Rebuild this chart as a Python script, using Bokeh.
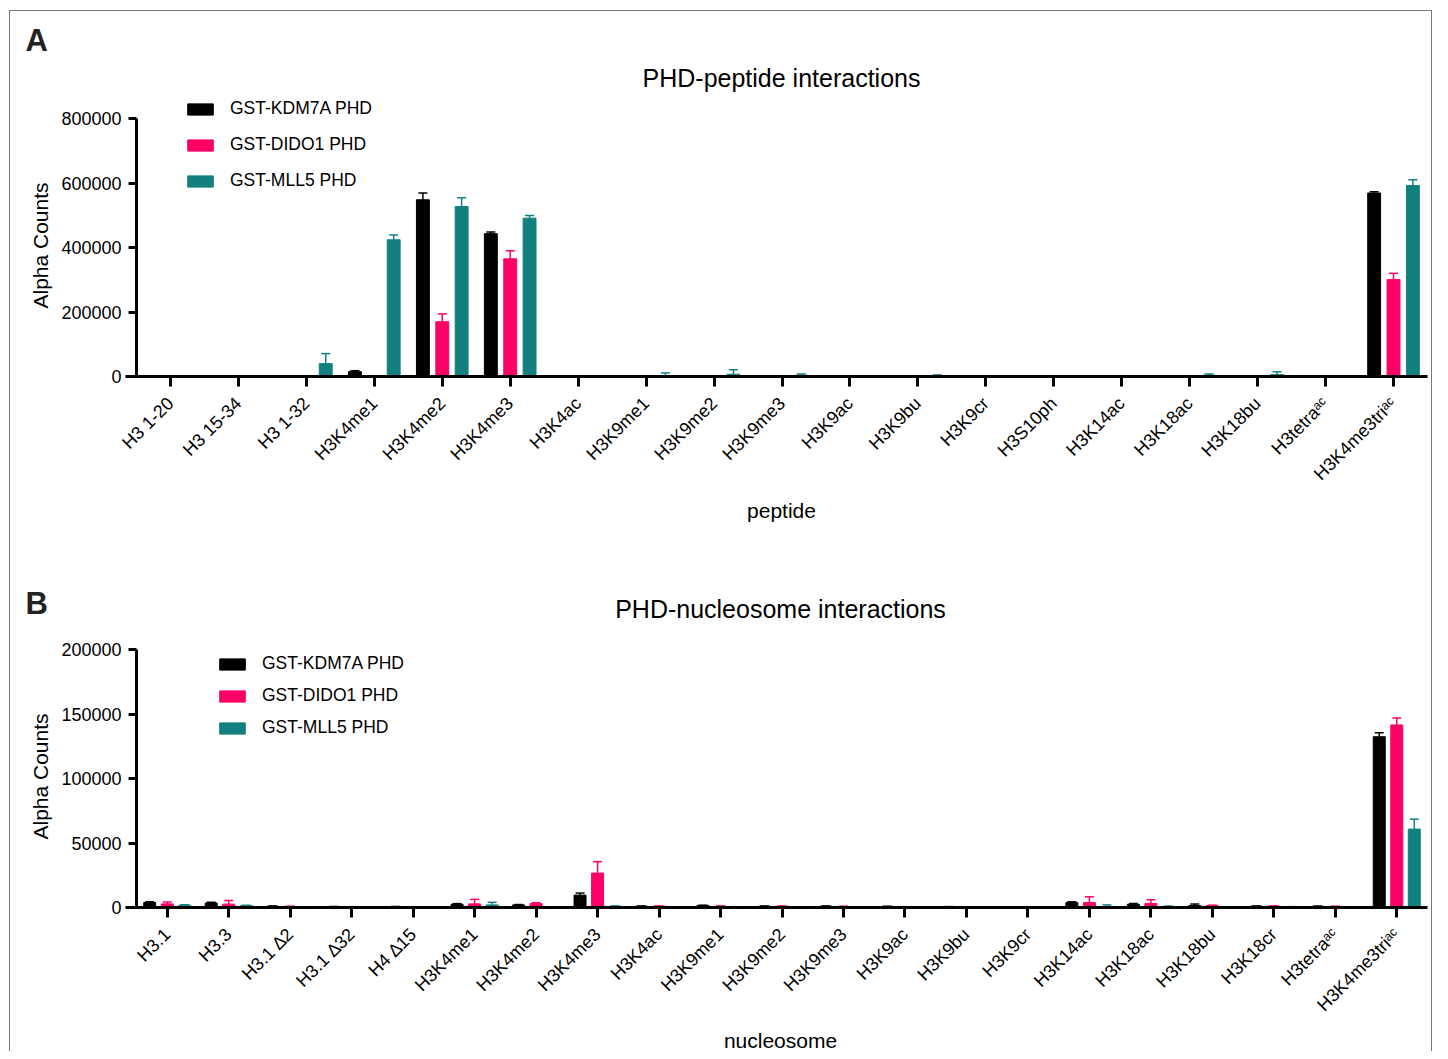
import math
from bokeh.plotting import figure
from bokeh.models import (Range1d, FixedTicker, BasicTickFormatter, Whisker, TeeHead,
                          ColumnDataSource, Legend, LegendItem, Label)
from bokeh.transform import dodge
from bokeh.layouts import column
from bokeh.embed import file_html
from bokeh.resources import INLINE

FONT = "Liberation Sans"
SERIES = ["GST-KDM7A PHD", "GST-DIDO1 PHD", "GST-MLL5 PHD"]
COLORS = ["#000000", "#FF0066", "#138080"]

# ---------------- Panel A: peptides ----------------
peptides = ["H3 1-20", "H3 15-34", "H3 1-32", "H3K4me1", "H3K4me2", "H3K4me3", "H3K4ac",
            "H3K9me1", "H3K9me2", "H3K9me3", "H3K9ac", "H3K9bu", "H3K9cr", "H3S10ph",
            "H3K14ac", "H3K18ac", "H3K18bu", "H3tetra\u1d43\u1d9c", "H3K4me3tri\u1d43\u1d9c"]
pep_kdm7a = [0, 0, 0, 15000, 548000, 443000, 0, 0, 0, 0, 0, 0, 0, 0, 0, 0, 0, 0, 569000]
pep_kdm7a_err = [0, 0, 0, 3000, 21000, 5000, 0, 0, 0, 0, 0, 0, 0, 0, 0, 0, 0, 0, 4000]
pep_dido1 = [0, 0, 1500, 1500, 170000, 365000, 0, 0, 0, 0, 0, 0, 0, 0, 0, 0, 0, 0, 301000]
pep_dido1_err = [0, 0, 500, 500, 24000, 25000, 0, 0, 0, 0, 0, 0, 0, 0, 0, 0, 0, 0, 19000]
pep_mll5 = [0, 0, 40000, 424000, 527000, 491000, 0, 3000, 7000, 4000, 500, 2000, 0, 0,
            500, 4000, 6000, 0, 592000]
pep_mll5_err = [0, 0, 31000, 15000, 27000, 8000, 0, 8000, 14000, 4000, 500, 3000, 0, 0,
                500, 4000, 8500, 0, 18000]
pep_yticks = [0, 200000, 400000, 600000, 800000]

# ---------------- Panel B: nucleosomes ----------------
nucleosomes = ["H3.1", "H3.3", "H3.1 \u22062", "H3.1 \u220632", "H4 \u220615", "H3K4me1",
               "H3K4me2", "H3K4me3", "H3K4ac", "H3K9me1", "H3K9me2", "H3K9me3", "H3K9ac",
               "H3K9bu", "H3K9cr", "H3K14ac", "H3K18ac", "H3K18bu", "H3K18cr",
               "H3tetra\u1d43\u1d9c", "H3K4me3tri\u1d43\u1d9c"]
nuc_kdm7a = [3800, 3500, 1000, 700, 700, 2500, 2000, 9600, 1000, 1500, 1000, 1000, 800, 600,
             500, 3800, 2500, 1500, 1000, 900, 132400]
nuc_kdm7a_err = [600, 600, 200, 100, 100, 500, 300, 1600, 200, 300, 200, 200, 200, 100, 100,
                 600, 600, 1200, 200, 200, 3100]
nuc_dido1 = [2800, 2600, 800, 300, 300, 2800, 3000, 26700, 1000, 1000, 1000, 800, 500, 400,
             400, 3800, 3200, 1500, 1000, 800, 141500]
nuc_dido1_err = [1400, 2800, 200, 100, 100, 3500, 700, 8800, 200, 200, 200, 200, 100, 100,
                 100, 4500, 2800, 300, 300, 200, 5400]
nuc_mll5 = [1800, 1500, 300, 300, 300, 2000, 500, 1000, 300, 500, 400, 300, 300, 300, 300,
            800, 800, 500, 600, 400, 60800]
nuc_mll5_err = [300, 300, 100, 100, 100, 2000, 100, 200, 100, 100, 100, 100, 100, 100, 100,
                1200, 300, 100, 100, 100, 7700]
nuc_yticks = [0, 50000, 100000, 150000, 200000]

# picture-space layout anchors (px)
CANVAS_L, CANVAS_R = 10, 1431
AX_L, AX_R, AX_XSTART = 136, 1427, 125


def make_panel(cats, series_vals, series_errs, yticks, title, letter, xlabel,
               canvas_top, canvas_bottom, ytop_px, y0_px, bar_w, leg_x, leg_bottom,
               leg_spacing, letter_y, title_x, title_y, ylab_y, xlab_y):
    n = len(cats)
    xs = list(range(n))
    W = CANVAS_R - CANVAS_L
    H = canvas_bottom - canvas_top
    ppu = (AX_R - AX_L) / n
    x_start = -0.5 - (AX_L - CANVAS_L) / ppu
    x_end = n - 0.5 + (CANVAS_R - AX_R) / ppu
    vpp = yticks[-1] / (y0_px - ytop_px)
    y_end = (y0_px - canvas_top) * vpp
    y_start = -(canvas_bottom - y0_px) * vpp

    p = figure(x_range=Range1d(x_start, x_end), y_range=Range1d(y_start, y_end),
               width=W, height=H, output_backend="svg", toolbar_location=None,
               min_border=0, min_border_left=0, min_border_right=0, min_border_top=0,
               min_border_bottom=0)
    p.outline_line_color = None
    p.xgrid.visible = False
    p.ygrid.visible = False
    p.background_fill_color = "white"
    p.border_fill_color = "white"

    offsets = [-0.285, 0.0, 0.285]
    renderers = []
    for vals, errs, off, col in zip(series_vals, series_errs, offsets, COLORS):
        src = ColumnDataSource(dict(x=xs, top=vals))
        r = p.vbar(x=dodge("x", off), top="top", width=bar_w, source=src,
                   fill_color=col, line_color=col)
        renderers.append(r)
        ex = [x for x, e in zip(xs, errs) if e > 0]
        elo = [v for v, e in zip(vals, errs) if e > 0]
        ehi = [v + e for v, e in zip(vals, errs) if e > 0]
        esrc = ColumnDataSource(dict(x=ex, lower=elo, upper=ehi))
        w = Whisker(base=dodge("x", off), lower="lower", upper="upper", source=esrc,
                    dimension="height", line_color=col, line_width=1.5,
                    upper_head=TeeHead(size=9, line_color=col, line_width=1.5),
                    lower_head=None)
        p.add_layout(w)

    xax = p.xaxis[0]
    yax = p.yaxis[0]
    xax.fixed_location = 0
    xax.bounds = (-0.5 - (AX_L - AX_XSTART) / ppu, n - 0.5)
    yax.fixed_location = -0.5
    yax.bounds = (0, yticks[-1])
    for ax in (xax, yax):
        ax.axis_line_width = 3
        ax.axis_line_color = "black"
        ax.major_tick_line_width = 3
        ax.major_tick_line_color = "black"
        ax.major_tick_in = 0
        ax.minor_tick_line_color = None
        ax.major_label_text_font = FONT
        ax.major_label_text_color = "black"

    xax.ticker = FixedTicker(ticks=xs)
    xax.major_label_overrides = {i: c for i, c in enumerate(cats)}
    xax.major_tick_out = 10
    xax.major_label_orientation = math.pi / 4
    xax.major_label_text_font_size = "18px"
    xax.major_label_standoff = 14

    yax.ticker = FixedTicker(ticks=yticks)
    yax.formatter = BasicTickFormatter(use_scientific=False)
    yax.major_tick_out = 8
    yax.major_label_text_font_size = "18px"
    yax.major_label_standoff = 7

    legend = Legend(items=[LegendItem(label=s, renderers=[r]) for s, r in zip(SERIES, renderers)],
                    location=(leg_x - CANVAS_L, canvas_bottom - leg_bottom),
                    glyph_width=32, glyph_height=14, label_standoff=14,
                    label_height=20, spacing=leg_spacing, padding=0, margin=0,
                    border_line_color=None, background_fill_alpha=0,
                    label_text_font=FONT, label_text_font_size="17.5px",
                    label_text_color="black")
    p.add_layout(legend)

    def lab(text, x, y, size, align="center", bold=False, angle=0.0, color="black"):
        p.add_layout(Label(x=x - CANVAS_L, y=canvas_bottom - y, x_units="screen",
                           y_units="screen", text=text, text_font=FONT,
                           text_font_size=size, text_font_style="bold" if bold else "normal",
                           text_align=align, text_baseline="middle", angle=angle,
                           text_color=color))

    lab(letter, 25, letter_y, "31px", align="left", bold=True, color="#222222")
    lab(title, title_x, title_y, "25px")
    lab("Alpha Counts", 40, ylab_y, "21px", angle=math.pi / 2)
    lab(xlabel, title_x, xlab_y, "21px")
    return p


pA = make_panel(peptides, [pep_kdm7a, pep_dido1, pep_mll5],
                [pep_kdm7a_err, pep_dido1_err, pep_mll5_err], pep_yticks,
                "PHD-peptide interactions", "A", "peptide",
                canvas_top=11, canvas_bottom=545, ytop_px=118, y0_px=376, bar_w=0.19,
                leg_x=184, leg_bottom=191, leg_spacing=15, letter_y=40, title_x=781,
                title_y=77, ylab_y=245, xlab_y=510)
pB = make_panel(nucleosomes, [nuc_kdm7a, nuc_dido1, nuc_mll5],
                [nuc_kdm7a_err, nuc_dido1_err, nuc_mll5_err], nuc_yticks,
                "PHD-nucleosome interactions", "B", "nucleosome",
                canvas_top=545, canvas_bottom=1051, ytop_px=649, y0_px=907, bar_w=0.195,
                leg_x=216, leg_bottom=738, leg_spacing=11, letter_y=603, title_x=780,
                title_y=608, ylab_y=776, xlab_y=1040)

layout = column(pA, pB, spacing=0,
                styles={"margin-left": "9px", "margin-top": "10px",
                        "border-left": "1px solid #777777",
                        "border-right": "1px solid #777777",
                        "border-top": "1px solid #777777"})

open("out.html", "w").write(file_html(layout, INLINE))
